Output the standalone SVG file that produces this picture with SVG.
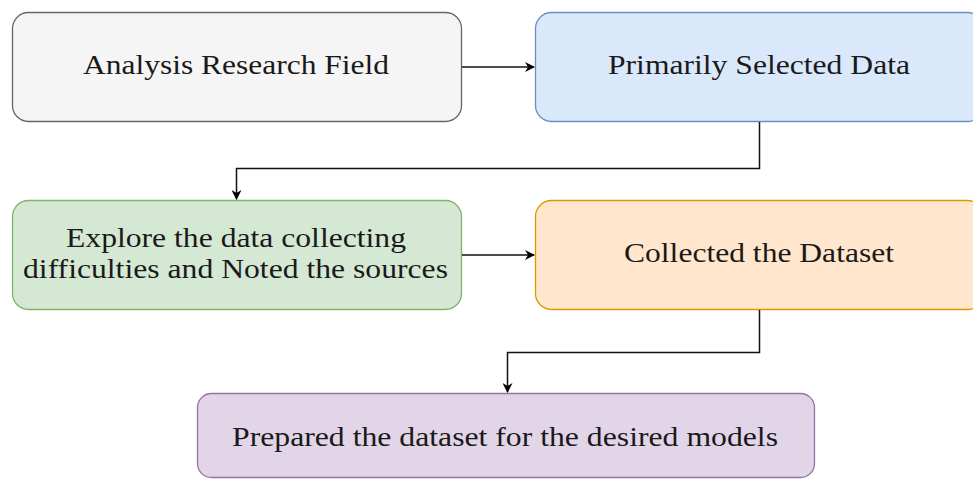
<svg xmlns="http://www.w3.org/2000/svg" width="973" height="479" viewBox="0 0 973 479">
<style>
.box{stroke-width:1.3}
.lbl{font-family:"Liberation Serif","Times New Roman",serif;font-size:27px;fill:#1a1a1a;text-anchor:middle}
.edge{fill:none;stroke:#111;stroke-width:1.5}
</style>
<defs>
<marker id="arr" markerWidth="10" markerHeight="10" refX="9" refY="5" orient="auto" markerUnits="userSpaceOnUse">
<path d="M0,0 L10,5 L0,10 L3,5 Z" fill="#000"/>
</marker>
</defs>
<rect width="973" height="479" fill="#fff"/>
<g id="n1">
<rect class="box" x="12.5" y="12.5" width="449" height="109" rx="16" fill="#f5f5f5" stroke="#666"/>
<text class="lbl" x="236" y="74" textLength="306" lengthAdjust="spacingAndGlyphs">Analysis Research Field</text>
</g>
<g id="n2">
<rect class="box" x="535.5" y="12.5" width="448" height="109" rx="16" fill="#dae8fc" stroke="#6c8ebf"/>
<text class="lbl" x="759" y="74" textLength="302" lengthAdjust="spacingAndGlyphs">Primarily Selected Data</text>
</g>
<g id="n3">
<rect class="box" x="12.5" y="200.5" width="449" height="109" rx="16" fill="#d5e8d4" stroke="#82b366"/>
<text class="lbl" x="236" y="247" textLength="340" lengthAdjust="spacingAndGlyphs">Explore the data collecting</text>
<text class="lbl" x="235.5" y="278" textLength="425" lengthAdjust="spacingAndGlyphs">difficulties and Noted the sources</text>
</g>
<g id="n4">
<rect class="box" x="535.5" y="200.5" width="448" height="109" rx="16" fill="#ffe6cc" stroke="#d79b00"/>
<text class="lbl" x="759" y="262" textLength="270" lengthAdjust="spacingAndGlyphs">Collected the Dataset</text>
</g>
<g id="n5">
<rect class="box" x="197.5" y="393.5" width="617" height="84" rx="14" fill="#e1d5e7" stroke="#9673a6"/>
<text class="lbl" x="505" y="446" textLength="546" lengthAdjust="spacingAndGlyphs">Prepared the dataset for the desired models</text>
</g>
<g id="edges">
<path class="edge" d="M462,67 H534" marker-end="url(#arr)"/>
<path class="edge" d="M759.5,122 V168.5 H236.5 V199" marker-end="url(#arr)"/>
<path class="edge" d="M462,255 H534" marker-end="url(#arr)"/>
<path class="edge" d="M759.5,310 V352.5 H507.5 V392" marker-end="url(#arr)"/>
</g>
</svg>
